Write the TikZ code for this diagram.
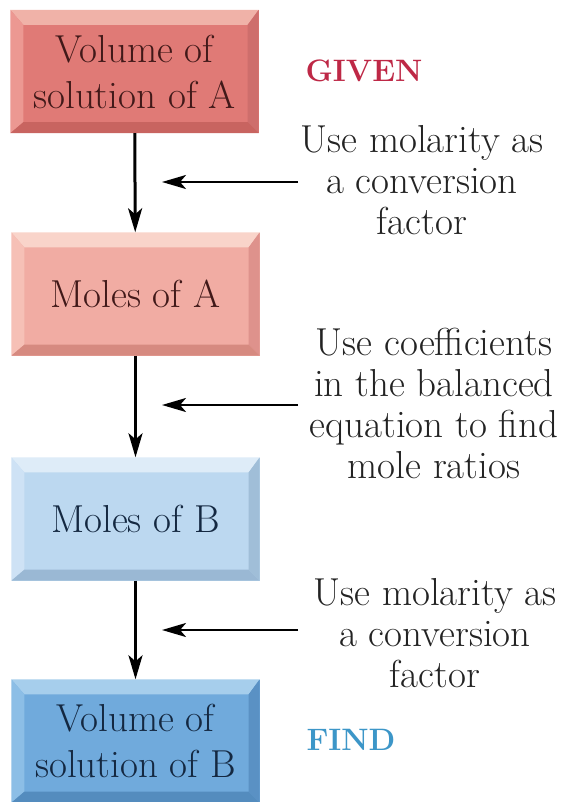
\documentclass[tikz,border=0pt]{standalone}
\usetikzlibrary{arrows.meta}
\usetikzlibrary{positioning}
\definecolor{redface}{RGB}{224,122,118}
\definecolor{redtop}{RGB}{240,178,168}
\definecolor{redleft}{RGB}{236,152,146}
\definecolor{redright}{RGB}{206,110,108}
\definecolor{redbottom}{RGB}{200,100,96}
\definecolor{pinkface}{RGB}{241,172,163}
\definecolor{pinktop}{RGB}{249,212,202}
\definecolor{pinkleft}{RGB}{246,192,182}
\definecolor{pinkright}{RGB}{222,146,140}
\definecolor{pinkbottom}{RGB}{214,138,128}
\definecolor{paleface}{RGB}{188,216,240}
\definecolor{paletop}{RGB}{222,236,248}
\definecolor{paleleft}{RGB}{206,226,245}
\definecolor{paleright}{RGB}{160,190,216}
\definecolor{palebottom}{RGB}{154,184,212}
\definecolor{blueface}{RGB}{112,170,220}
\definecolor{bluetop}{RGB}{166,206,236}
\definecolor{blueleft}{RGB}{140,190,230}
\definecolor{blueright}{RGB}{90,145,196}
\definecolor{bluebottom}{RGB}{84,140,190}
\definecolor{redtext}{RGB}{65,25,25}
\definecolor{bluetext}{RGB}{20,40,65}
\definecolor{notetext}{RGB}{35,35,35}
\definecolor{givencol}{RGB}{190,40,70}
\definecolor{findcol}{RGB}{60,150,200}
% four sloped edges round a box: #1 node, #2 colour prefix
\newcommand{\bevelbox}[2]{%
  \fill[#2top] (#1.north west) -- (#1.north east) -- ([shift={(-11pt,-15pt)}]#1.north east) -- ([shift={(13pt,-15pt)}]#1.north west) -- cycle;
  \fill[#2left] (#1.north west) -- ([shift={(13pt,-15pt)}]#1.north west) -- ([shift={(13pt,11pt)}]#1.south west) -- (#1.south west) -- cycle;
  \fill[#2right] (#1.north east) -- ([shift={(-11pt,-15pt)}]#1.north east) -- ([shift={(-11pt,11pt)}]#1.south east) -- (#1.south east) -- cycle;
  \fill[#2bottom] (#1.south west) -- ([shift={(13pt,11pt)}]#1.south west) -- ([shift={(-11pt,11pt)}]#1.south east) -- (#1.south east) -- cycle;
}

\begin{document}
\begin{tikzpicture}[x=1pt,y=-1pt,>={Stealth[length=24pt,width=14pt,inset=6pt]},
    box node/.style={rectangle,minimum width=248pt,minimum height=123pt,inner sep=0pt,align=center,font=\fontsize{39}{46}\selectfont},
    note node/.style={align=center,font=\fontsize{39}{41}\selectfont,text=notetext},
    tag node/.style={anchor=base west,font=\fontsize{31}{31}\selectfont\bfseries}]
  \useasboundingbox[fill=white] (0,0) rectangle (568,802);
  % the four boxes
  \node[box node,fill=redface] (vol a) at (134.5,71.5) {};
  \bevelbox{vol a}{red}
  \node[box node,text=redtext] at (vol a) {Volume of\\solution of A};
  \node[box node,fill=pinkface] (mol a) at (135.5,294) {};
  \bevelbox{mol a}{pink}
  \node[box node,text=redtext] at (mol a) {Moles of A};
  \node[box node,fill=paleface] (mol b) at (135.5,519) {};
  \bevelbox{mol b}{pale}
  \node[box node,text=bluetext] at (mol b) {Moles of B};
  \node[box node,fill=blueface] (vol b) at (135.5,741) {};
  \bevelbox{vol b}{blue}
  \node[box node,text=bluetext] at (vol b) {Volume of\\solution of B};
  % labels
  \node[tag node,text=givencol] (given) at (302,82) {GIVEN};
  \node[tag node,text=findcol] (find) at (303,750) {FIND};
  \node[note node] (note1) at (422,180) {Use molarity as\\a conversion\\factor};
  \node[note node] (note2) at (434,403) {Use coefficients\\in the balanced\\equation to find\\mole ratios};
  \node[note node] (note3) at (435,633) {Use molarity as\\a conversion\\factor};
  % arrows
  \path[->,line width=3pt] (vol a) edge (mol a);
  \path[->,line width=3pt] (mol a) edge (mol b);
  \path[->,line width=3pt] (mol b) edge (vol b);
  \coordinate (tail1) at (298,182);
  \coordinate (tip1) at (162,182);
  \coordinate (tail2) at (298,405);
  \coordinate (tip2) at (162,405);
  \coordinate (tail3) at (298,630);
  \coordinate (tip3) at (162,630);
  \path[->,line width=2.5pt] (tail1) edge (tip1);
  \path[->,line width=2.5pt] (tail2) edge (tip2);
  \path[->,line width=2.5pt] (tail3) edge (tip3);
\end{tikzpicture}
\end{document}
